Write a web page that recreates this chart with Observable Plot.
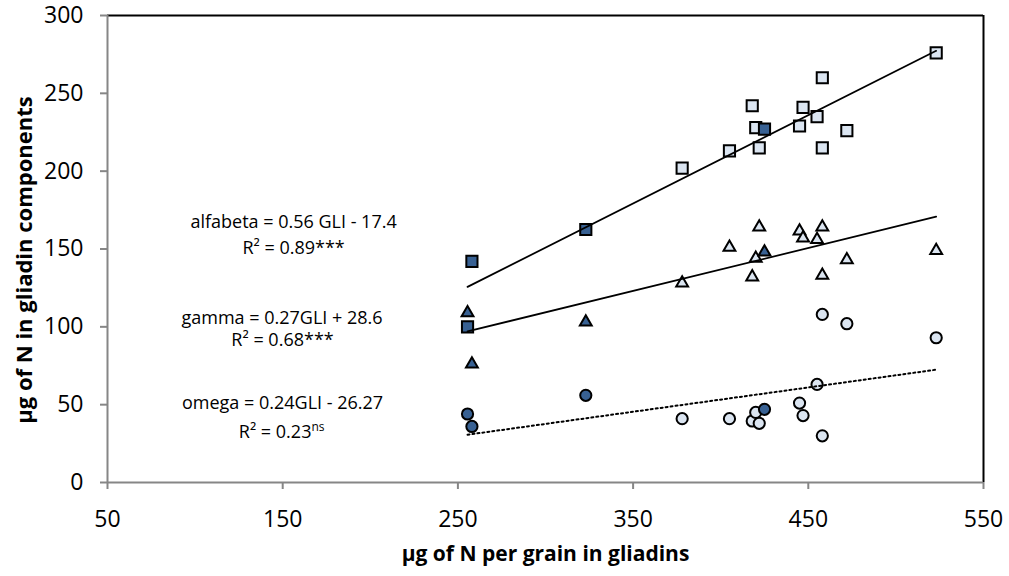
<!DOCTYPE html>
<html>
<head>
<meta charset="utf-8">
<script src="https://cdn.jsdelivr.net/npm/d3@7"></script>
<script src="https://cdn.jsdelivr.net/npm/@observablehq/plot@0.6"></script>
<style>
  body { margin: 0; background: #fff; }
  #chart svg { display: block; }
</style>
</head>
<body>
<div id="chart"></div>
<script>
// Total gliadin N per grain (µg) for each of the 16 samples
const gli      = [255.5, 258, 323, 378, 405, 418, 420, 422, 425, 445, 447, 455, 458, 458, 472, 523];
// N in each gliadin fraction (µg) for the same samples
const alfabeta = [100, 142, 162.5, 202, 213, 242, 228, 215, 227, 229, 241, 235, 260, 215, 226, 276];
const gamma    = [110, 77, 104, 129, 152, 133, 145, 165, 149, 162.5, 158, 157, 165, 134, 144, 150];
const omega    = [44, 36, 56, 41, 41, 39.5, 45, 38, 47, 51, 43, 63, 30, 108, 102, 93];
// samples drawn with the dark fill
const highlighted = [true, true, true, false, false, false, false, false, true, false, false, false, false, false, false, false];

const xTicks = [50, 150, 250, 350, 450, 550];
const yTicks = [0, 50, 100, 150, 200, 250, 300];

const equationLabels = ["alfabeta = 0.56 GLI - 17.4", "gamma = 0.27GLI + 28.6", "omega = 0.24GLI - 26.27"];
const r2Labels = ["R² = 0.89***", "R² = 0.68***", "R² = 0.23"];
const r2Suffix = ["", "", "ns"];

const xTitle = "µg of N per grain in gliadins";
const yTitle = "µg of N in gliadin components";

const seriesNames = ["alfabeta", "gamma", "omega"];
const seriesValues = [alfabeta, gamma, omega];
const seriesSymbols = ["square", "triangle", "circle"];

const rows = seriesNames.flatMap((s, k) =>
  gli.map((g, i) => ({series: s, gli: g, value: seriesValues[k][i], dark: highlighted[i]}))
);

const lightFill = "#dbe5f1";
const darkFill = "#386193";
const symbolRadius = {square: 6.3, triangle: 4.4, circle: 5.6};

const markerMarks = seriesNames.flatMap((s, k) => {
  const sym = seriesSymbols[k];
  const opts = {
    x: "gli", y: "value", symbol: sym, r: symbolRadius[sym],
    stroke: "black", strokeWidth: 2, dy: sym === "triangle" ? 1.5 : 0
  };
  return [
    Plot.dot(rows.filter(d => d.series === s && !d.dark), {...opts, fill: lightFill}),
    Plot.dot(rows.filter(d => d.series === s && d.dark), {...opts, fill: darkFill})
  ];
});

const trendMarks = seriesNames.map((s, k) =>
  Plot.linearRegressionY(rows.filter(d => d.series === s), {
    x: "gli", y: "value", ci: 0, stroke: "black",
    strokeWidth: s === "omega" ? 2 : 1.75,
    strokeDasharray: s === "omega" ? "2,3" : null
  })
);

const plot = Plot.plot({
  width: 1009,
  height: 576,
  marginLeft: 107,
  marginRight: 26,
  marginTop: 15,
  marginBottom: 94,
  x: {domain: [50, 550]},
  y: {domain: [0, 300]},
  style: {fontFamily: "'Open Sans', sans-serif", fontSize: "18px", color: "black", background: "white", overflow: "visible"},
  marks: [
    // frame: grey axes on the left and bottom, black on the top and right
    Plot.ruleY([300], {stroke: "black", strokeWidth: 2}),
    Plot.ruleX([550], {stroke: "black", strokeWidth: 2}),
    Plot.ruleX([50], {stroke: "#868686", strokeWidth: 2}),
    Plot.ruleY([0], {stroke: "#868686", strokeWidth: 2}),
    Plot.axisX(xTicks, {anchor: "bottom", tickSize: 7, tickPadding: 21, stroke: "#868686", strokeWidth: 2, fill: "black", fontSize: 23, label: null}),
    Plot.axisY(yTicks, {anchor: "left", tickSize: 7, tickPadding: 17, stroke: "#868686", strokeWidth: 2, fill: "black", fontSize: 23, label: null}),
    ...markerMarks,
    ...trendMarks,
    Plot.text(equationLabels, {text: d => d, x: [156.2, 149.6, 149.9], y: [167, 105.6, 51.2], fontSize: 18, fill: "black"}),
    Plot.text(r2Labels, {text: d => d, x: [156.2, 149.9, 149.4], y: [150.3, 91.1, 32.3], fontSize: 18, fill: "black"}),
    Plot.text([xTitle], {text: d => d, frameAnchor: "bottom", dy: 78, fontSize: 21, fontWeight: "bold", fill: "black"}),
    Plot.text([yTitle], {text: d => d, frameAnchor: "left", textAnchor: "middle", rotate: -90, dx: -83, dy: 11, fontSize: 22, fontWeight: "bold", fill: "black"})
  ]
});

// superscript significance note after the R² values
d3.select(plot).selectAll("text").each(function() {
  const i = r2Labels.indexOf(this.textContent);
  if (i >= 0 && r2Suffix[i]) {
    d3.select(this).append("tspan").attr("font-size", 12).attr("dy", -7).text(r2Suffix[i]);
  }
});

document.getElementById("chart").appendChild(plot);
</script>
</body>
</html>
